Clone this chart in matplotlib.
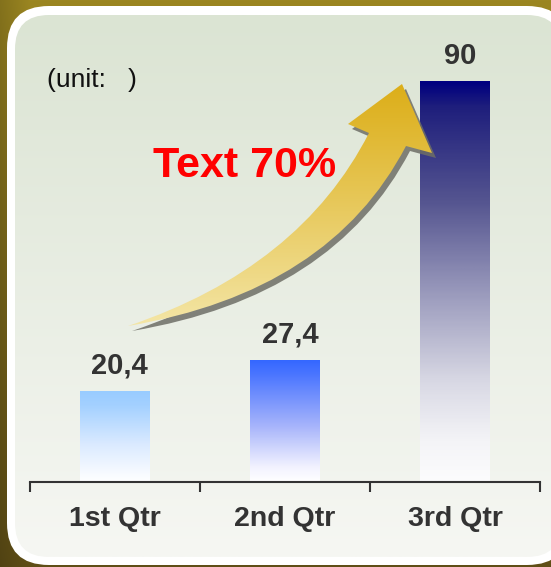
import numpy as np
import matplotlib.pyplot as plt
from matplotlib.patches import FancyBboxPatch, PathPatch
from matplotlib.path import Path
from matplotlib.colors import LinearSegmentedColormap

plt.rcParams['font.family'] = ['Liberation Sans', 'DejaVu Sans']

categories = ['1st Qtr', '2nd Qtr', '3rd Qtr']
values = [20.4, 27.4, 90]
unit_text = '(unit:   )'
growth_text = 'Text 70%'

# gradient stops for each bar, top -> bottom
bar_grads = [
    [(0, '#99ccff'), (0.15, '#a3d0ff'), (0.6, '#dcebff'), (1, '#ffffff')],
    [(0, '#3366ff'), (0.12, '#4a75ff'), (0.55, '#a8b5fb'), (0.88, '#f2f2ff'), (1, '#ffffff')],
    [(0, '#000080'), (0.06, '#1e1e7c'), (0.3, '#555590'), (0.55, '#a0a0c0'),
     (0.75, '#d8d8e4'), (0.9, '#f4f4f7'), (1, '#fcfcfd')],
]

W, H = 551, 567
fig = plt.figure(figsize=(W / 100, H / 100), dpi=100)

# background layer in pixel coordinates
bg = fig.add_axes([0, 0, 1, 1], zorder=0)
bg.axis('off')

yy, xx = np.mgrid[0:H, 0:W]
t = yy / H
top = np.array([155, 134, 33]) / 255
bot = np.array([95, 78, 22]) / 255
img = top * (1 - t[..., None]) + bot * t[..., None]
img *= (0.85 + 0.15 * np.clip(xx / 30, 0, 1))[..., None]
bg.imshow(img, extent=[0, W, H, 0], aspect='auto', zorder=0)

outer = FancyBboxPatch((7, 6), 562, 559, boxstyle='round,pad=0,rounding_size=42',
                       facecolor='white', edgecolor='none', zorder=1)
bg.add_patch(outer)
inner = FancyBboxPatch((15, 15), 546, 542, boxstyle='round,pad=0,rounding_size=34',
                       facecolor='none', edgecolor='none', zorder=2)
bg.add_patch(inner)
c_top = np.array([219, 228, 211]) / 255
c_bot = np.array([246, 247, 243]) / 255
g = np.linspace(0, 1, 256)[:, None, None]
panel = c_top * (1 - g) + c_bot * g
im = bg.imshow(panel, extent=[15, 561, 557, 15], aspect='auto', zorder=2)
im.set_clip_path(inner)
bg.set_xlim(0, W)
bg.set_ylim(H, 0)

# bars
ax = fig.add_axes([30 / W, 85 / H, 510 / W, 462 / H], zorder=1)
ax.patch.set_alpha(0)
x = np.arange(len(categories))
bars = ax.bar(x, values, width=0.41, facecolor='none', edgecolor='none')
s = np.linspace(0, 1, 300)
for rect, stops in zip(bars, bar_grads):
    cmap = LinearSegmentedColormap.from_list('bar', stops)
    arr = cmap(s)[:, None, :3]
    x0, w, h = rect.get_x(), rect.get_width(), rect.get_height()
    gi = ax.imshow(arr, extent=[x0, x0 + w, 0, h], aspect='auto', origin='upper', zorder=2)
    gi.set_clip_path(rect)

for i, v in enumerate(values):
    lab = f'{v:g}'.replace('.', ',')
    ax.annotate(lab, xy=(i, v), xytext=(3.5, 12.5), textcoords='offset points',
                ha='center', va='baseline', fontsize=21, fontweight='bold', color='#333333')

ax.set_xlim(-0.5, 2.5)
ax.set_ylim(0, 462 / ((482 - 81) / 90))
for sp in ['top', 'left', 'right']:
    ax.spines[sp].set_visible(False)
ax.spines['bottom'].set_color('#333333')
ax.spines['bottom'].set_linewidth(1.5)
ax.set_yticks([])
ax.set_xticks([-0.5, 0.5, 1.5, 2.5])
ax.set_xticklabels([])
ax.set_xticks(x, minor=True)
ax.set_xticklabels(categories, minor=True, fontsize=20.5, fontweight='bold', color='#333333')
ax.tick_params(axis='x', which='major', length=7, width=1.5, color='#333333')
ax.tick_params(axis='x', which='minor', length=0, pad=17)
for tl in ax.xaxis.get_majorticklines():
    tl.set_clip_on(False)

# overlay: arrow and texts
ov = fig.add_axes([0, 0, 1, 1], zorder=2)
ov.axis('off')
ov.patch.set_alpha(0)

verts = [(128, 326), (300, 268), (369, 133), (348, 124), (402, 84),
         (432, 153), (406, 146), (330, 292), (128, 326)]
codes = [Path.MOVETO, Path.CURVE3, Path.CURVE3, Path.LINETO, Path.LINETO,
         Path.LINETO, Path.LINETO, Path.CURVE3, Path.CURVE3]
shadow = Path([(vx + 4, vy + 5) for vx, vy in verts], codes)
ov.add_patch(PathPatch(shadow, facecolor='#6e6e66', edgecolor='none', alpha=0.85, zorder=1))
arrow = PathPatch(Path(verts, codes), facecolor='none', edgecolor='none', zorder=2)
ov.add_patch(arrow)
gold = np.array([220, 174, 24]) / 255
pale = np.array([245, 232, 172]) / 255
ag = np.linspace(0, 1, 256)[:, None, None] ** 1.1
arr = gold * (1 - ag) + pale * ag
ai = ov.imshow(arr, extent=[120, 440, 335, 80], aspect='auto', zorder=2)
ai.set_clip_path(arrow)
ov.set_xlim(0, W)
ov.set_ylim(H, 0)

ov.text(245, 166, growth_text, color='#ff0000', fontsize=31, fontweight='bold',
        ha='center', va='center', zorder=3)
ov.text(47, 80, unit_text, color='#111111', fontsize=19, ha='left', va='center', zorder=3)

fig.savefig('out.png', dpi=100)
